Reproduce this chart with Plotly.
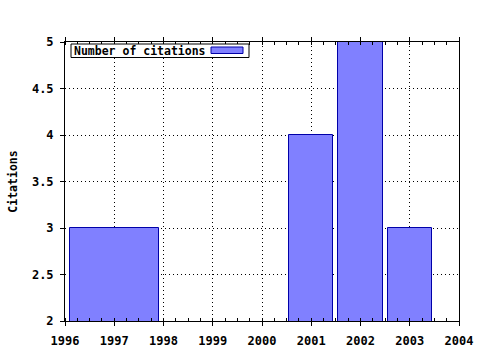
import plotly.graph_objects as go

years = [1997, 2001, 2002, 2003]
citations = [3, 4, 5, 3]
bar_widths = [1.8, 0.9, 0.9, 0.9]
x_ticks = [1996, 1997, 1998, 1999, 2000, 2001, 2002, 2003, 2004]
y_ticks = [2, 2.5, 3, 3.5, 4, 4.5, 5]
y_tick_labels = ["2", "2.5", "3", "3.5", "4", "4.5", "5"]
series_name = "Number of citations"

FONT = "DejaVu Sans Mono"
FILL = "#8080ff"
EDGE = "#0000a8"

fig = go.Figure()
fig.add_trace(go.Bar(
    x=years, y=citations, width=bar_widths, name=series_name,
    marker=dict(color=FILL, line=dict(color=EDGE, width=1)),
    showlegend=False,
))

# plot-area pixel geometry helpers (for the hand-drawn legend)
L, R, T, B = 65, 459, 42, 321
def px(x):
    return (x - L) / (R - L)
def py(y):
    return (B - y) / (B - T)

fig.add_shape(type="rect", xref="paper", yref="paper",
              x0=px(71), x1=px(249), y0=py(57.5), y1=py(44),
              line=dict(color="black", width=1), fillcolor="white", layer="above")
fig.add_shape(type="rect", xref="paper", yref="paper",
              x0=px(211), x1=px(243), y0=py(53.5), y1=py(47),
              line=dict(color=EDGE, width=1), fillcolor=FILL, layer="above")
fig.add_annotation(xref="paper", yref="paper", x=px(72), y=py(50.5),
                   xanchor="left", yanchor="middle", showarrow=False,
                   text=series_name,
                   font=dict(family=FONT, size=11.5, color="black", weight="bold"))

fig.update_layout(
    width=480, height=350,
    margin=dict(l=L, r=480 - R, t=T, b=350 - B, autoexpand=False),
    paper_bgcolor="white", plot_bgcolor="white",
    bargap=0,
    font=dict(family=FONT, size=11, color="black"),
    xaxis=dict(
        range=[1996, 2004], tickvals=x_ticks, ticktext=[str(v) for v in x_ticks],
        showgrid=True, gridcolor="black", gridwidth=1, griddash="1px,3px",
        showline=True, linecolor="black", linewidth=1, mirror="ticks",
        ticks="outside", ticklen=4, tickcolor="black",
        minor=dict(dtick=0.25, ticks="inside", ticklen=3, tickcolor="black", showgrid=False),
        tickfont=dict(family=FONT, size=12, weight="bold"),
        ticklabelstandoff=5,
        zeroline=False, fixedrange=True, automargin=False,
    ),
    yaxis=dict(
        range=[2, 5], tickvals=y_ticks, ticktext=y_tick_labels,
        showgrid=True, gridcolor="black", gridwidth=1, griddash="1px,3px",
        showline=True, linecolor="black", linewidth=1, mirror=True,
        ticks="outside", ticklen=4, tickcolor="black",
        tickfont=dict(family=FONT, size=12, weight="bold"),
        ticklabelstandoff=4,
        title=dict(text="Citations", standoff=11,
                   font=dict(family=FONT, size=11.5, weight="bold")),
        zeroline=False, fixedrange=True, automargin=False,
    ),
)

fig.write_html("out.html")
